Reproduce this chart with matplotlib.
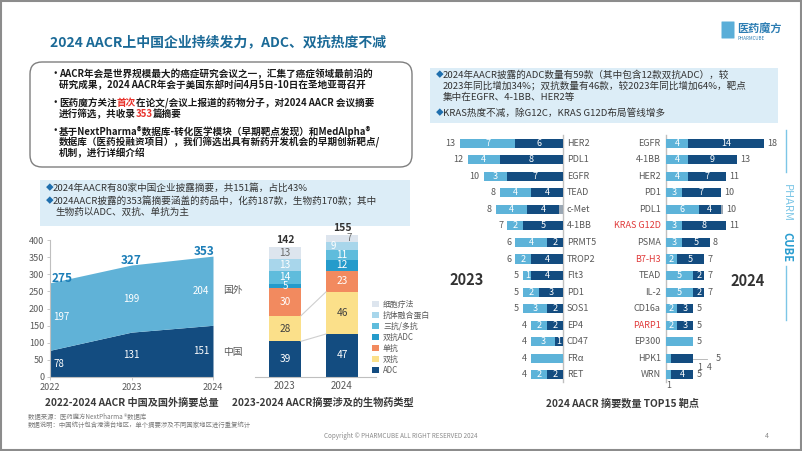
import matplotlib
matplotlib.use("Agg")
import matplotlib.pyplot as plt
from matplotlib.patches import FancyBboxPatch, Rectangle

plt.rcParams["font.family"] = ["Noto Sans CJK SC", "DejaVu Sans"]

W, H = 802, 451

# 2022-2024 abstracts, China vs abroad (totals are de-duplicated)
area_years = [2022, 2023, 2024]
area_china = [78, 131, 151]
area_foreign = [197, 199, 204]
area_total = [275, 327, 353]

# biologic types in abstracts
bio_years = ["2023", "2024"]
bio_types = ["ADC", "双抗", "单抗", "双抗ADC", "三抗/多抗", "抗体融合蛋白", "细胞疗法"]
bio_2023 = [39, 28, 30, 5, 14, 13, 13]
bio_2024 = [47, 46, 23, 12, 11, 9, 7]
bio_colors = ["#134c80", "#fbe08a", "#f28a5f", "#259bcb", "#5fbcdc", "#a8d6eb", "#dde5ee"]
bio_text = ["white", "#404040", "white", "white", "white", "white", "#6a6a6a"]

# top15 targets
t23_names = ["HER2", "PDL1", "EGFR", "TEAD", "c-Met", "4-1BB", "PRMT5", "TROP2",
             "Flt3", "PD1", "SOS1", "EP4", "CD47", "FRα", "RET"]
t23_light = [7, 4, 3, 4, 4, 2, 4, 2, 1, 2, 3, 2, 3, 4, 2]
t23_dark = [6, 8, 7, 4, 4, 5, 2, 4, 4, 3, 2, 2, 1, 0, 2]
t23_other = [0, 0, 0, 0, 0.5, 0, 0, 0, 0, 0, 0, 0, 0, 0, 0]

t24_names = ["EGFR", "4-1BB", "HER2", "PD1", "PDL1", "KRAS G12D", "PSMA", "B7-H3",
             "TEAD", "IL-2", "CD16a", "PARP1", "EP300", "HPK1", "WRN"]
t24_light = [4, 4, 4, 3, 6, 3, 3, 2, 5, 5, 2, 2, 5, 1, 1]
t24_dark = [14, 9, 7, 7, 4, 8, 5, 5, 2, 2, 3, 3, 0, 4, 4]
t24_other = [0, 0, 0, 0, 0.5, 0, 0, 0, 0, 0, 0, 0, 0, 0, 0]
t24_red = ["KRAS G12D", "B7-H3", "PARP1"]

LIGHT = "#5db3d9"
DARK = "#134c80"
GREY = "#9aa7b4"
TXT = "#595959"

fig = plt.figure(figsize=(W / 100, H / 100), dpi=100)
fig.patch.set_facecolor("white")
bg = fig.add_axes([0, 0, 1, 1], zorder=0)
bg.set_xlim(0, W)
bg.set_ylim(H, 0)
bg.axis("off")


def add_ax(x0, y0, x1, y1):
    ax = fig.add_axes([x0 / W, 1 - y1 / H, (x1 - x0) / W, (y1 - y0) / H], zorder=2)
    ax.patch.set_alpha(0)
    return ax


def draw_runs(x, y, parts, size, weight="normal"):
    r = fig.canvas.get_renderer()
    for s, c in parts:
        t = bg.text(x, y, s, color=c, fontsize=size, fontweight=weight, va="center", ha="left")
        x += t.get_window_extent(renderer=r).width


# frame, title, logo
bg.add_patch(Rectangle((1, 1), W - 2, H - 2, fill=False, ec="#8c8c8c", lw=1.5))
bg.text(50, 42, "2024 AACR上中国企业持续发力，ADC、双抗热度不减", fontsize=10,
        fontweight="bold", color="#1b6a97", va="center")
bg.add_patch(FancyBboxPatch((722, 22), 12, 16, boxstyle="round,pad=0.5", fc="#5aaed8", ec="none"))
bg.text(737, 29, "医药魔方", fontsize=8, fontweight="bold", color="#2c7db3", va="center")
bg.text(738, 38, "PHARMCUBE", fontsize=3.2, color="#2c7db3", va="center")

# box 1
bg.add_patch(FancyBboxPatch((30, 62), 382, 105, boxstyle="round,pad=0,rounding_size=12",
                            fc="white", ec="#7f7f7f", lw=1))
b1 = 6.9
blk = "#1a1a1a"
red = "#e8322b"
for yy in [74, 103, 131]:
    bg.text(51, yy, "•", fontsize=b1, fontweight="bold", color=blk, va="center")
draw_runs(59, 74, [("AACR年会是世界规模最大的癌症研究会议之一，汇集了癌症领域最前沿的", blk)], b1, "bold")
draw_runs(59, 85, [("研究成果，2024 AACR年会于美国东部时间4月5日-10日在圣地亚哥召开", blk)], b1, "bold")
draw_runs(59, 103, [("医药魔方关注", blk), ("首次", red), ("在论文/会议上报道的药物分子，对2024 AACR 会议摘要", blk)], b1, "bold")
draw_runs(59, 114, [("进行筛选，共收录", blk), ("353", red), ("篇摘要", blk)], b1, "bold")
draw_runs(59, 131, [("基于NextPharma®数据库-转化医学模块（早期靶点发现）和MedAlpha®", blk)], b1, "bold")
draw_runs(59, 142, [("数据库（医药投融资项目），我们筛选出具有新药开发机会的早期创新靶点/", blk)], b1, "bold")
draw_runs(59, 153, [("机制，进行详细介绍", blk)], b1, "bold")

# box 2
bg.add_patch(Rectangle((40, 180), 370, 46, fc="#dcedf7", ec="none", zorder=3))
dia = "#1f6fae"
b2 = 6.9
for yy in [188, 201]:
    bg.text(46, yy, "◆", fontsize=5.5, color=dia, va="center", zorder=4)
bg.text(53, 188, "2024年AACR有80家中国企业披露摘要，共151篇，占比43%", fontsize=b2, color="#333333",
        va="center", zorder=4)
bg.text(53, 201, "2024AACR披露的353篇摘要涵盖的药品中，化药187款，生物药170款；其中", fontsize=b2,
        color="#333333", va="center", zorder=4)
bg.text(55, 212, "生物药以ADC、双抗、单抗为主", fontsize=b2, color="#333333", va="center", zorder=4)

# box 3
bg.add_patch(Rectangle((430, 68), 348, 55, fc="#dcedf7", ec="none"))
for yy in [75, 113]:
    bg.text(436, yy, "◆", fontsize=5.5, color=dia, va="center")
bg.text(443, 75, "2024年AACR披露的ADC数量有59款（其中包含12款双抗ADC），较", fontsize=b2, color="#333333", va="center")
bg.text(443, 86, "2023年同比增加34%；双抗数量有46款，较2023年同比增加64%，靶点", fontsize=b2, color="#333333", va="center")
bg.text(443, 97, "集中在EGFR、4-1BB、HER2等", fontsize=b2, color="#333333", va="center")
bg.text(443, 113, "KRAS热度不减，除G12C，KRAS G12D布局管线增多", fontsize=b2, color="#333333", va="center")

# area chart
ax = add_ax(50, 240, 213, 377)
ax.fill_between(area_years, 0, area_china, color=DARK, lw=0)
ax.fill_between(area_years, area_china, area_total, color="#60b2d7", lw=0)
ax.set_xlim(2022, 2024)
ax.set_ylim(0, 400)
ax.set_yticks(range(0, 401, 50))
ax.set_xticks(area_years)
ax.tick_params(labelsize=6.5, labelcolor=TXT, color="#bfbfbf", length=2, width=0.6, pad=2)
for s in ["top", "right"]:
    ax.spines[s].set_visible(False)
for s in ["left", "bottom"]:
    ax.spines[s].set_color("#bfbfbf")
    ax.spines[s].set_linewidth(0.8)
aligns = [("left", 3), ("center", 0), ("right", -4)]
tot_dx = [2, 0, 1]
for i, yr in enumerate(area_years):
    ha, dx = aligns[i]
    ax.annotate(str(area_china[i]), (yr, area_china[i] / 2), xytext=(dx, 0), textcoords="offset pixels",
                ha=ha, va="center", color="white", fontsize=7)
    ax.annotate(str(area_foreign[i]), (yr, (area_china[i] + area_total[i]) / 2), xytext=(dx, 0),
                textcoords="offset pixels", ha=ha, va="center", color="white", fontsize=7)
    ax.annotate(str(area_total[i]), (yr, area_total[i]), xytext=(tot_dx[i], -2),
                textcoords="offset pixels", ha=ha, va="bottom", color="#1b7db7", fontsize=8.5,
                fontweight="bold")
bg.text(223, 290, "国外", fontsize=7, color=TXT, va="center")
bg.text(223, 352, "中国", fontsize=7, color=TXT, va="center")
bg.text(132, 403, "2022-2024 AACR 中国及国外摘要总量", fontsize=7.3, fontweight="bold", color="#3a3a3a",
        ha="center", va="center")

# stacked biologics bars
axb = add_ax(255, 228, 376, 377)
ppu = 0.915
axb.set_xlim(-(285 - 255) / 57, 1 + (376 - 342) / 57)
axb.set_ylim(0, 149 / ppu)
bw = 32 / 57
# thin top segments of 2024 get their labels nudged sideways
nudge_2024 = {"抗体融合蛋白": -0.15, "细胞疗法": 0.12}
bottoms = [0, 0]
edges = []
for k, name in enumerate(bio_types):
    vals = [bio_2023[k], bio_2024[k]]
    axb.bar([0, 1], vals, bottom=bottoms, width=bw, color=bio_colors[k], lw=0, label=name)
    for j in range(2):
        xo = nudge_2024.get(name, 0) if j == 1 else 0
        axb.text(j + xo, bottoms[j] + vals[j] / 2, str(vals[j]), ha="center", va="center",
                 color=bio_text[k], fontsize=7 if vals[j] < 10 else 7.3)
    bottoms = [bottoms[0] + vals[0], bottoms[1] + vals[1]]
    edges.append(list(bottoms))
for k in range(2):
    axb.plot([bw / 2, 1 - bw / 2], [edges[k][0], edges[k][1]], color="#cfcfcf", lw=0.8)
for j in range(2):
    axb.text(j, bottoms[j] + 2, str(bottoms[j]), ha="center", va="bottom", fontsize=7.5,
             fontweight="bold", color="#333333", zorder=0)
axb.set_xticks([0, 1])
axb.set_xticklabels(bio_years)
axb.set_yticks([])
axb.tick_params(labelsize=7, labelcolor=TXT, length=0, pad=3)
for s in ["top", "right", "left"]:
    axb.spines[s].set_visible(False)
axb.spines["bottom"].set_color("#bfbfbf")
h, l = axb.get_legend_handles_labels()
axb.legend(h[::-1], l[::-1], loc="upper left", bbox_to_anchor=(0.94, 0.54), frameon=False,
           fontsize=5.7, handlelength=0.9, handleheight=0.9, handletextpad=0.5, labelspacing=0.25,
           labelcolor=TXT, borderaxespad=0)
bg.text(323, 403, "2023-2024 AACR摘要涉及的生物药类型", fontsize=7.3, fontweight="bold", color="#3a3a3a",
        ha="center", va="center")

# footnotes
bg.text(28, 417, "数据来源：医药魔方NextPharma ®数据库", fontsize=4.6, color="#7a7a7a", va="center")
bg.text(28, 425, "数据说明：中国统计包含港澳台地区，单个摘要涉及不同国家地区进行重复统计", fontsize=4.6,
        color="#7a7a7a", va="center")
bg.text(401, 436, "Copyright © PHARMCUBE ALL RIGHT RESERVED 2024", fontsize=4.5, color="#8a8a8a",
        ha="center", va="center")
bg.text(767, 436, "4", fontsize=5, color="#8a8a8a", ha="center", va="center")

# butterfly: 2023 (left)
rows = list(range(len(t23_names)))
ax23 = add_ax(430, 135, 563, 383)
ax23.set_xlim(133 / 7.93, 0)
ax23.set_ylim(14.5, -0.5)
bh = 0.55
ax23.barh(rows, t23_other, left=0, height=bh, color=GREY, lw=0)
ax23.barh(rows, t23_dark, left=t23_other, height=bh, color=DARK, lw=0)
lleft = [o + d for o, d in zip(t23_other, t23_dark)]
ax23.barh(rows, t23_light, left=lleft, height=bh, color=LIGHT, lw=0)
for i in rows:
    lt, dk, ot = t23_light[i], t23_dark[i], t23_other[i]
    if lt > 0 and dk > 0:
        ax23.text(ot + dk / 2, i, str(dk), ha="center", va="center", color="white", fontsize=6.5)
        ax23.text(ot + dk + lt / 2, i, str(lt), ha="center", va="center", color="white", fontsize=6.5)
    ax23.text(ot + dk + lt + 0.55, i, str(lt + dk), ha="right", va="center", color=TXT, fontsize=6.5)
    ax23.text(-0.5, i, t23_names[i], ha="left", va="center", color=TXT, fontsize=6.5, clip_on=False)
ax23.axis("off")
bg.plot([563, 563], [135, 382], color="#c0c0c0", lw=1)
bg.text(467, 280, "2023", fontsize=10.5, fontweight="bold", color="#333333", ha="center", va="center")

# butterfly: 2024 (right)
ax24 = add_ax(666, 135, 790, 383)
ax24.set_xlim(0, 124 / 5.45)
ax24.set_ylim(14.5, -0.5)
ax24.barh(rows, t24_light, left=0, height=bh, color=LIGHT, lw=0)
ax24.barh(rows, t24_dark, left=t24_light, height=bh, color=DARK, lw=0)
oleft = [a + b for a, b in zip(t24_light, t24_dark)]
ax24.barh(rows, t24_other, left=oleft, height=bh, color=GREY, lw=0)
for i in rows:
    lt, dk, ot = t24_light[i], t24_dark[i], t24_other[i]
    tot = lt + dk
    name = t24_names[i]
    if name == "HPK1":
        ax24.plot([tot, tot + 2.6], [i + 0.05, i + 0.05], color="#b0b0b0", lw=0.6)
        ax24.text(tot + 0.8, i + 0.28, f"{lt}  {dk}", ha="left", va="top", color=TXT, fontsize=6.3)
        ax24.text(tot + 4.2, i, str(tot), ha="left", va="center", color=TXT, fontsize=6.5)
    else:
        if lt > 0 and dk > 0:
            if lt > 1:
                ax24.text(lt / 2, i, str(lt), ha="center", va="center", color="white", fontsize=6.5)
            else:
                ax24.text(lt / 2, i + 0.38, str(lt), ha="center", va="top", color=TXT, fontsize=6.3,
                          clip_on=False)
            ax24.text(lt + dk / 2, i, str(dk), ha="center", va="center", color="white", fontsize=6.5)
        ax24.text(tot + ot + 0.6, i, str(tot), ha="left", va="center", color=TXT, fontsize=6.5)
    col = "#e03a3a" if name in t24_red else TXT
    ax24.text(-0.95, i, name, ha="right", va="center", color=col, fontsize=6.5, clip_on=False)
ax24.axis("off")
bg.plot([666, 666], [135, 382], color="#c0c0c0", lw=1)
bg.text(748, 281, "2024", fontsize=10.5, fontweight="bold", color="#333333", ha="center", va="center")
bg.text(622, 403, "2024 AACR 摘要数量 TOP15 靶点", fontsize=7.3, fontweight="bold", color="#3a3a3a",
        ha="center", va="center")

# side brand mark
bg.plot([786, 786], [130, 172], color="#7cc6e6", lw=1)
bg.plot([786, 786], [266, 320], color="#7cc6e6", lw=1)
bg.text(787, 203, "PHARM", rotation=270, fontsize=8, color="#7cc6e6", ha="center", va="center")
bg.text(787, 247, "CUBE", rotation=270, fontsize=8, fontweight="bold", color="#2a9dd0", ha="center", va="center")

fig.savefig("out.png", dpi=100)
